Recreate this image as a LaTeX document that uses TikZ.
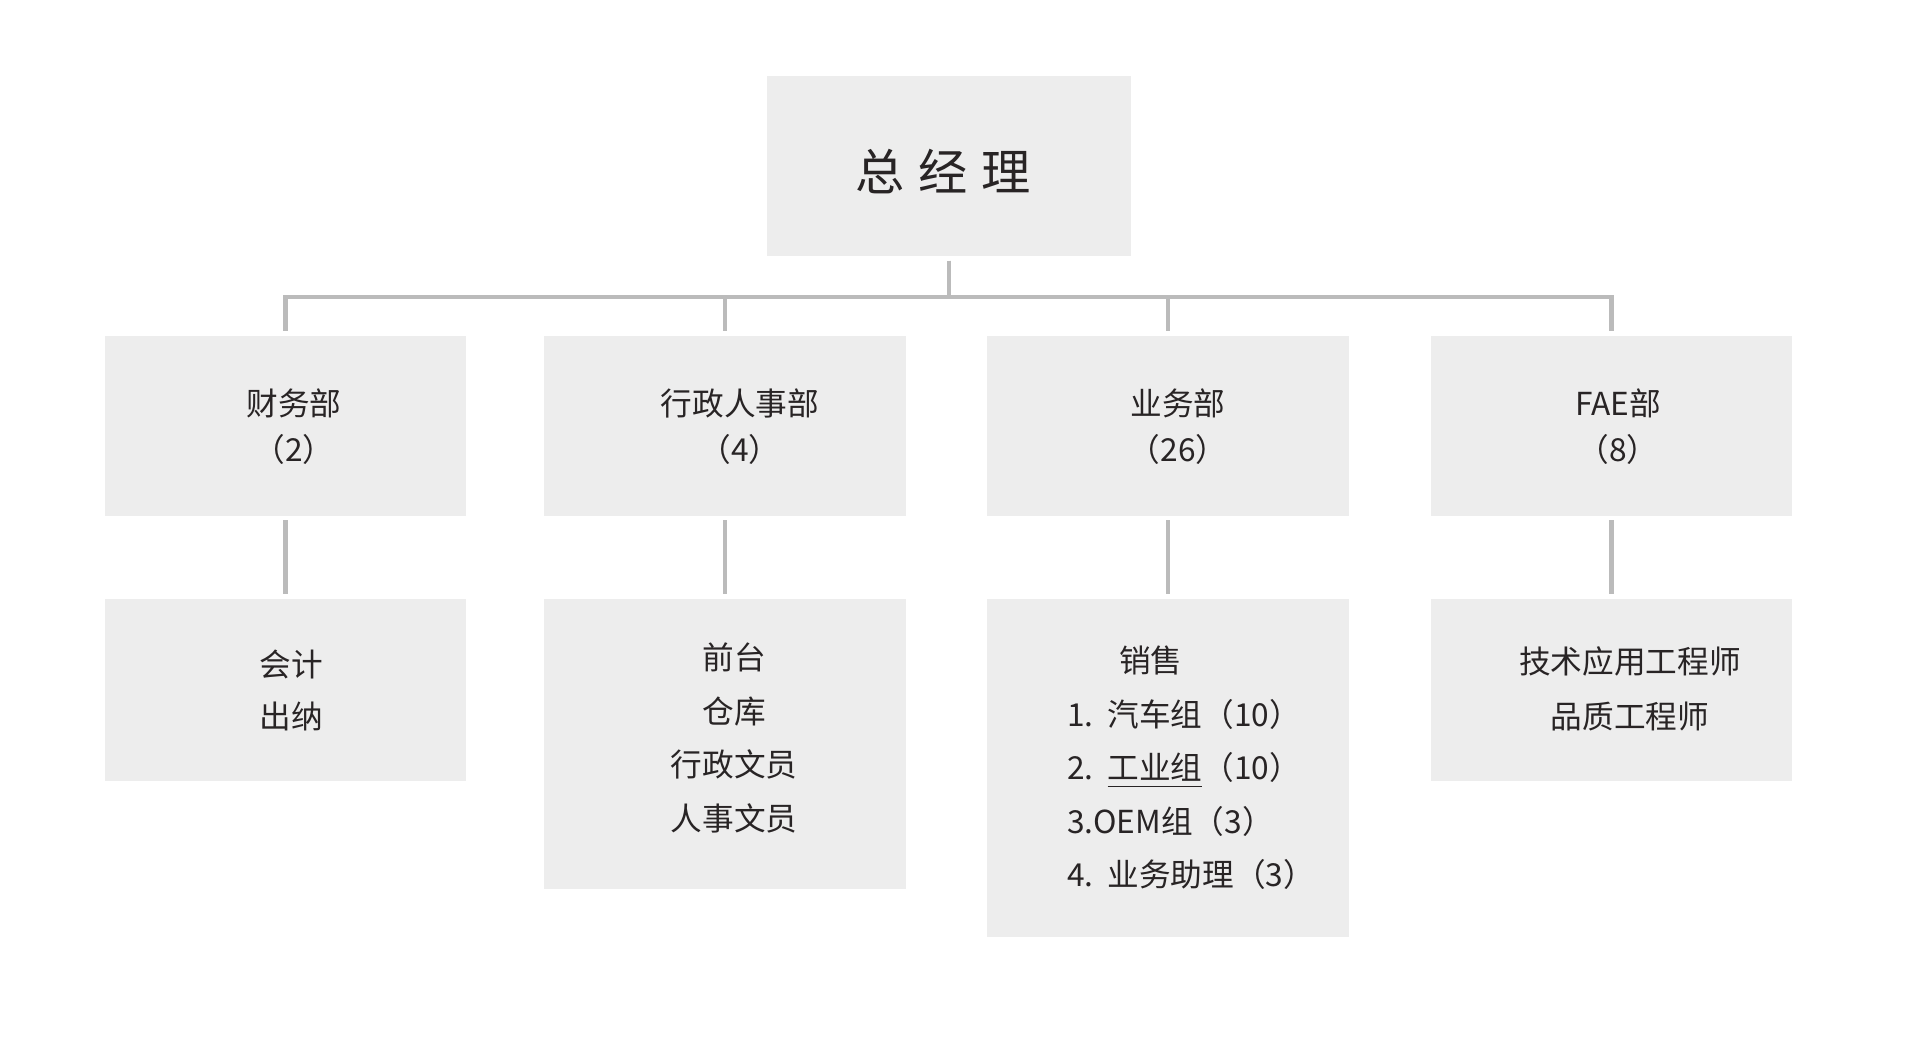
\documentclass[tikz,border=0pt]{standalone}
\usepackage{fontspec}
\setmainfont{Noto Sans CJK SC}
\usepackage{tikz}
\usetikzlibrary{positioning}
\definecolor{boxgray}{RGB}{237,237,237}
\definecolor{linegray}{RGB}{187,187,187}
\definecolor{inkgray}{RGB}{40,36,37}
\tikzset{
link/.style={draw=linegray, line width=1.15pt, shorten <=0.04cm, shorten >=0.05cm}, % the grey connectors, kept off the boxes
dept/.style={fill=boxgray, inner sep=0pt, minimum width=3.61cm, minimum height=1.79cm}, % every grey box
words/.style={text=inkgray, align=center, inner sep=0pt, font=\fontsize{9}{13.1}\selectfont}, % text set on a box
}
\tikzset{
  rows/.append style={words, font=\fontsize{9}{15.2}\selectfont}
}

\begin{document}
\begin{tikzpicture}[x=0.01cm, y=-0.01cm]
      \path[fill=white, use as bounding box] (0,0) rectangle (1920,1053);

      \node[dept, minimum width=3.63cm, minimum height=1.8cm] (gm) at (949,166) {};
      \node[dept] (fin) at (285.5,426) {};
      \node[dept] (adm) at (725,426) {};
      \node[dept] (sale) at (1168,426) {};
      \node[dept] (fae) at (1611.5,426) {};
      \node[dept, minimum height=1.81cm] (fin2) at (285.5,690) {};
      \node[dept, minimum height=2.89cm] (adm2) at (725,744) {};
      \node[dept, minimum height=3.37cm] (sale2) at (1168,768) {};
      \node[dept, minimum height=1.81cm] (fae2) at (1611.5,690) {};

      \node[words, font=\fontsize{14}{16}\selectfont] (gmt) at (943,172) {总\hspace{4pt}经\hspace{4pt}理};
      \node[words] (fint) at (294,427) {财务部\\（2）};
      \node[words] (admt) at (740,427) {行政人事部\\（4）};
      \node[words] (salet) at (1178,427) {业务部\\（26）};
      \node[words] (faet) at (1618,427) {FAE部\\（8）};
      \node[rows, font=\fontsize{9}{14.8}\selectfont] (fin2t) at (291,690) {会计\\出纳};
      \node[rows] (adm2t) at (734,738) {前台\\仓库\\行政文员\\人事文员};
      \node[rows, align=left] (sale2t) at (1191,768) {\hspace*{0.52cm}销售\\1.\ \ 汽车组（10）\\2.\ \ \underline{工业组}（10）\\3.OEM组（3）\\4.\ \ 业务助理（3）};
      \node[rows, font=\fontsize{9}{15.6}\selectfont] (fae2t) at (1630,689) {技术应用工程师\\品质工程师};

      \coordinate (bus) at (949,297);
      \foreach \d in {fin, adm, sale, fae}
        \draw[link] (gm.south) -- (gm.south |- bus) -| (\d.north);
      \draw (fin) edge[link] (fin2)
      (adm) edge[link] (adm2)
      (sale) edge[link] (sale2)
      (fae) edge[link] (fae2);
    \end{tikzpicture}
\end{document}
